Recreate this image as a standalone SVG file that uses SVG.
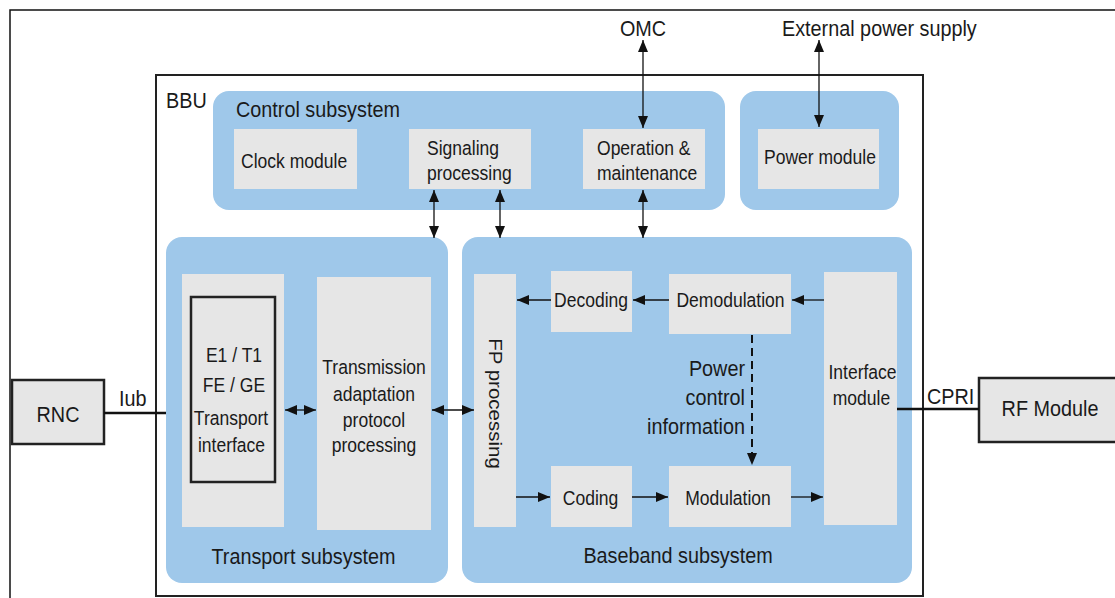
<svg xmlns="http://www.w3.org/2000/svg" width="1115" height="598" viewBox="0 0 1115 598">
  <style>
    .frame { fill: none; stroke: #111; stroke-width: 1.5; }
    .bbu { fill: #fff; stroke: #222; stroke-width: 2; }
    .sub { fill: #9fc8ea; }
    .mod { fill: #e6e6e6; }
    .ext { fill: #e6e6e6; stroke: #222; stroke-width: 2.5; }
    .ifbox { fill: none; stroke: #222; stroke-width: 2.5; }
    text { font-family: "Liberation Sans", Arial, sans-serif; fill: #1a1a1a; }
    .lg { font-size: 22.5px; }
    .sm { font-size: 20.5px; }
    .mid { text-anchor: middle; }
    .end { text-anchor: end; }
    .link { fill: none; stroke: #111; stroke-width: 1.3; }
    .wire { fill: none; stroke: #111; stroke-width: 2.5; }
    .dash { fill: none; stroke: #111; stroke-width: 2; stroke-dasharray: 8 5; }
  </style>
  <defs>
    <marker id="head" viewBox="0 0 12 10" refX="12" refY="5" markerWidth="12" markerHeight="10" markerUnits="userSpaceOnUse" orient="auto-start-reverse">
      <path d="M0,0 L12,5 L0,10 z" fill="#111"/>
    </marker>
  </defs>

  <!-- outer frame -->
  <rect class="frame" x="10" y="10" width="1120" height="600"/>

  <!-- BBU enclosure -->
  <g id="bbu">
    <rect class="bbu" x="156" y="75" width="767" height="521"/>
    <text class="lg" transform="translate(166 108) scale(0.88 1)">BBU</text>
  </g>

  <!-- control subsystem -->
  <g id="control-subsystem">
    <rect class="sub" x="213" y="91" width="512" height="119" rx="16"/>
    <text class="lg" transform="translate(236 117) scale(0.88 1)">Control subsystem</text>
  </g>
  <g id="clock-module">
    <rect class="mod" x="234" y="129" width="123" height="60"/>
    <text class="sm" transform="translate(241 168) scale(0.855 1)">Clock module</text>
  </g>
  <g id="signaling-processing">
    <rect class="mod" x="409" y="129" width="122" height="60"/>
    <text class="sm" transform="translate(427 155) scale(0.855 1)">Signaling</text>
    <text class="sm" transform="translate(427 180) scale(0.855 1)">processing</text>
  </g>
  <g id="operation-maintenance">
    <rect class="mod" x="583" y="129" width="122" height="60"/>
    <text class="sm" transform="translate(597 155) scale(0.855 1)">Operation &amp;</text>
    <text class="sm" transform="translate(597 180) scale(0.855 1)">maintenance</text>
  </g>

  <!-- power subsystem -->
  <g id="power-subsystem">
    <rect class="sub" x="740" y="91" width="159" height="119" rx="16"/>
  </g>
  <g id="power-module">
    <rect class="mod" x="758" y="129" width="121" height="60"/>
    <text class="sm" transform="translate(764 164) scale(0.855 1)">Power module</text>
  </g>

  <!-- external endpoints -->
  <g id="omc">
    <text class="lg mid" transform="translate(643 36) scale(0.88 1)">OMC</text>
  </g>
  <g id="external-power">
    <text class="lg" transform="translate(782 36) scale(0.88 1)">External power supply</text>
  </g>

  <!-- transport subsystem -->
  <g id="transport-subsystem">
    <rect class="sub" x="166" y="237" width="282" height="346" rx="16"/>
    <text class="lg mid" transform="translate(303.5 564) scale(0.88 1)">Transport subsystem</text>
  </g>
  <g id="transport-interface">
    <rect class="mod" x="182" y="274" width="102" height="253"/>
    <rect class="ifbox" x="191" y="297" width="84" height="185"/>
    <text class="sm mid" transform="translate(234 362) scale(0.855 1)">E1 / T1</text>
    <text class="sm mid" transform="translate(234 392) scale(0.855 1)">FE / GE</text>
    <text class="sm mid" transform="translate(231 425) scale(0.855 1)">Transport</text>
    <text class="sm mid" transform="translate(231.5 452) scale(0.855 1)">interface</text>
  </g>
  <g id="transmission-adaptation">
    <rect class="mod" x="317" y="277" width="114" height="253"/>
    <text class="sm mid" transform="translate(374 374) scale(0.855 1)">Transmission</text>
    <text class="sm mid" transform="translate(374 401) scale(0.855 1)">adaptation</text>
    <text class="sm mid" transform="translate(374 427) scale(0.855 1)">protocol</text>
    <text class="sm mid" transform="translate(374 452) scale(0.855 1)">processing</text>
  </g>

  <!-- baseband subsystem -->
  <g id="baseband-subsystem">
    <rect class="sub" x="462" y="237" width="450" height="346" rx="16"/>
    <text class="lg mid" transform="translate(678 563) scale(0.88 1)">Baseband subsystem</text>
  </g>
  <g id="fp-processing">
    <rect class="mod" x="474" y="274" width="42" height="253"/>
    <text class="sm mid" transform="translate(489 403.5) rotate(90) scale(1 0.86)">FP processing</text>
  </g>
  <g id="decoding">
    <rect class="mod" x="551" y="271" width="81" height="61"/>
    <text class="sm mid" transform="translate(591 307) scale(0.855 1)">Decoding</text>
  </g>
  <g id="demodulation">
    <rect class="mod" x="669" y="274" width="122" height="60"/>
    <text class="sm mid" transform="translate(730.5 307) scale(0.855 1)">Demodulation</text>
  </g>
  <g id="coding">
    <rect class="mod" x="551" y="466" width="81" height="61"/>
    <text class="sm mid" transform="translate(590.5 505) scale(0.855 1)">Coding</text>
  </g>
  <g id="modulation">
    <rect class="mod" x="669" y="466" width="122" height="61"/>
    <text class="sm mid" transform="translate(728 505) scale(0.855 1)">Modulation</text>
  </g>
  <g id="interface-module">
    <rect class="mod" x="824" y="272" width="73" height="253"/>
    <text class="sm mid" transform="translate(862.5 379) scale(0.855 1)">Interface</text>
    <text class="sm mid" transform="translate(861.5 405) scale(0.855 1)">module</text>
  </g>

  <!-- neighbouring network elements -->
  <g id="rnc">
    <rect class="ext" x="12" y="380" width="92" height="64"/>
    <text class="lg mid" transform="translate(58 422) scale(0.88 1)">RNC</text>
  </g>
  <g id="rf-module">
    <rect class="ext" x="979" y="378" width="150" height="64"/>
    <text class="lg mid" transform="translate(1050 416) scale(0.88 1)">RF Module</text>
  </g>

  <!-- connectors -->
  <g id="connectors">
    <!-- external interfaces -->
    <path class="wire" d="M104,413 H166"/>
    <path class="wire" d="M897,409 H979"/>
    <text class="lg" transform="translate(119 406) scale(0.88 1)">Iub</text>
    <text class="lg" transform="translate(927 404) scale(0.88 1)">CPRI</text>

    <!-- management and power links -->
    <path class="link" d="M643,40 V128" marker-start="url(#head)" marker-end="url(#head)"/>
    <path class="link" d="M819,40 V127" marker-start="url(#head)" marker-end="url(#head)"/>

    <!-- control to transport / baseband -->
    <path class="link" d="M434,190 V238" marker-start="url(#head)" marker-end="url(#head)"/>
    <path class="link" d="M500,190 V238" marker-start="url(#head)" marker-end="url(#head)"/>
    <path class="link" d="M643,190 V238" marker-start="url(#head)" marker-end="url(#head)"/>

    <!-- transport chain -->
    <path class="link" d="M285,410 H316" marker-start="url(#head)" marker-end="url(#head)"/>
    <path class="link" d="M432,410 H474" marker-start="url(#head)" marker-end="url(#head)"/>

    <!-- uplink: interface -> demodulation -> decoding -> FP -->
    <path class="link" d="M824,300 H792" marker-end="url(#head)"/>
    <path class="link" d="M669,300 H633" marker-end="url(#head)"/>
    <path class="link" d="M551,300 H517" marker-end="url(#head)"/>

    <!-- downlink: FP -> coding -> modulation -> interface -->
    <path class="link" d="M516,497 H550" marker-end="url(#head)"/>
    <path class="link" d="M632,497 H668" marker-end="url(#head)"/>
    <path class="link" d="M791,497 H823" marker-end="url(#head)"/>

    <!-- power control feedback -->
    <path class="dash" d="M752,335 V465" marker-end="url(#head)"/>
    <text class="lg end" transform="translate(745 376) scale(0.88 1)">Power</text>
    <text class="lg end" transform="translate(745 405) scale(0.88 1)">control</text>
    <text class="lg end" transform="translate(745 434) scale(0.88 1)">information</text>
  </g>
</svg>
